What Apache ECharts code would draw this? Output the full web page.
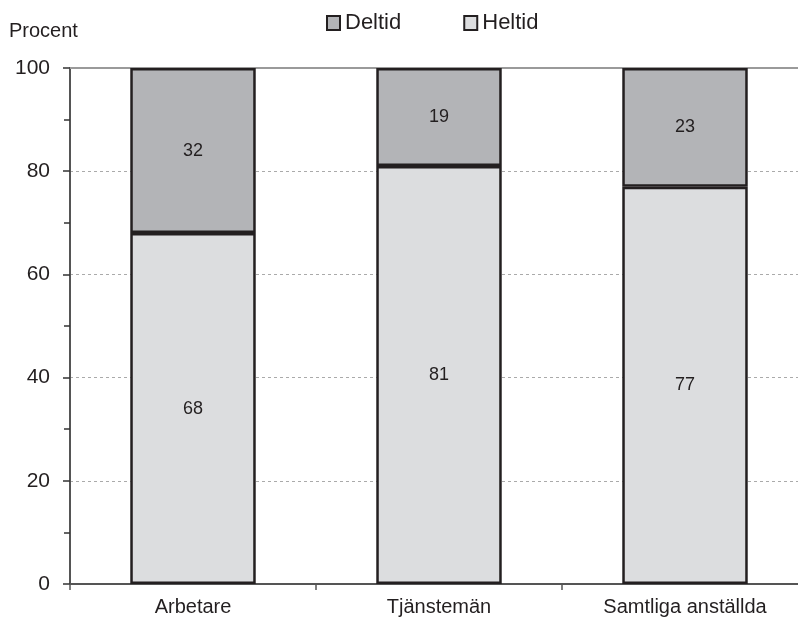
<!DOCTYPE html>
<html>
<head>
<meta charset="utf-8">
<script src="https://cdn.jsdelivr.net/npm/echarts@6/dist/echarts.min.js"></script>
<style>html,body{margin:0;padding:0;background:#fff;overflow:hidden;width:798px;height:621px}#c{width:810px;height:621px}</style>
</head>
<body>
<div id="c"></div>
<script>
const categories = ['Arbetare', 'Tjänstemän', 'Samtliga anställda'];
const heltid = [68, 81, 77];
const deltid = [32, 19, 23];
const yTicks = [0, 20, 40, 60, 80, 100];

const chart = echarts.init(document.getElementById('c'), null, {renderer: 'canvas'});
const font = 'Liberation Sans, Arial, sans-serif';
const dark = '#231f20';
chart.setOption({
  animation: false,
  textStyle: {fontFamily: font},
  legend: {
    left: 326, top: 12, padding: 0,
    itemWidth: 13, itemHeight: 14, itemGap: 62,
    icon: 'rect',
    textStyle: {fontSize: 22, color: dark, fontFamily: font},
    data: ['Deltid', 'Heltid']
  },
  grid: {left: 70, right: 2, top: 68, bottom: 37},
  xAxis: [{
    type: 'category',
    data: categories,
    axisLine: {lineStyle: {color: '#555', width: 2}},
    axisTick: {show: true, length: 6, lineStyle: {color: '#555', width: 1.5}},
    axisLabel: {fontSize: 20, color: dark, margin: 13, fontFamily: font}
  }, {
    type: 'category',
    position: 'top',
    data: categories,
    axisLine: {show: true, lineStyle: {color: '#9a9a9a', width: 2}},
    axisTick: {show: false},
    axisLabel: {show: false}
  }],
  yAxis: {
    type: 'value',
    min: 0, max: 100, interval: 20,
    name: 'Procent',
    nameLocation: 'end',
    nameGap: 27,
    nameTextStyle: {fontSize: 20, color: dark, align: 'left', padding: [0, 0, 0, -61], fontFamily: font},
    axisLine: {show: true, lineStyle: {color: '#555', width: 2}},
    axisTick: {show: true, length: 7, lineStyle: {color: '#333', width: 1.5}},
    minorTick: {show: true, splitNumber: 2, length: 6, lineStyle: {color: '#333', width: 1.5}},
    axisLabel: {fontSize: 21, color: dark, margin: 20, fontFamily: font,
      formatter: v => yTicks.includes(v) ? String(v) : ''},
    splitLine: {show: true, lineStyle: {color: '#aaa', type: [3, 3], width: 1}}
  },
  series: [{
    name: 'Heltid', type: 'bar', stack: 'a', data: heltid, barWidth: '51%',
    itemStyle: {color: '#dcdddf', borderColor: dark, borderWidth: 2.5},
    label: {show: true, position: 'inside', fontSize: 18, color: dark, fontFamily: font}
  }, {
    name: 'Deltid', type: 'bar', stack: 'a', data: deltid, barWidth: '51%',
    itemStyle: {color: '#b3b4b7', borderColor: dark, borderWidth: 2.5},
    label: {show: true, position: 'inside', fontSize: 18, color: dark, fontFamily: font}
  }]
});
</script>
</body>
</html>
